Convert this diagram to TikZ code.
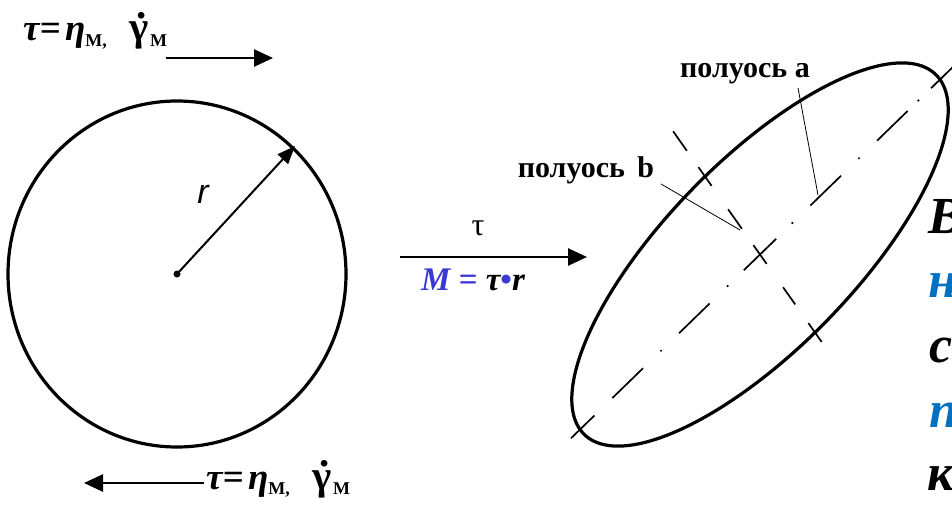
\documentclass[tikz,border=0pt]{standalone}
\usepackage{fontspec}
\setmainfont{Liberation Serif}
\newfontfamily\arialf{Liberation Sans}
\usetikzlibrary{arrows.meta,calc}
\definecolor{mblue}{RGB}{58,58,210}
\definecolor{tblue}{RGB}{0,112,192}
\newcommand{\mygdot}{{\upshape\fontsize{41}{41}\selectfont\makebox[0pt][l]{\hspace{0.17em}\raisebox{0.56em}{.}}γ}}
\newcommand{\mysubm}[1]{\raisebox{-0.35ex}{\upshape\fontsize{18}{18}\selectfont #1}}
\newcommand{\myformula}{\fontsize{37}{37}\selectfont\bfseries\itshape τ=\hspace{0.12em}η\mysubm{М,}\hspace{0.6em}\mygdot\hspace{0.05em}\mysubm{М}}
\begin{document}
\begin{tikzpicture}[x=1pt,y=-1pt,
  bigarrow/.style={line width=2.6pt,-{Triangle[length=19pt,width=17pt]}},
  thick3/.style={line width=3.2pt},
  axisline/.style={line width=1.7pt},
  leader/.style={line width=0.8pt},
  lbl/.style={font=\fontsize{30}{30}\selectfont\bfseries,inner sep=0pt,anchor=base},
  side/.style={font=\fontsize{52}{52}\selectfont\bfseries\itshape,inner sep=0pt,anchor=base west}]
\useasboundingbox (0,0) rectangle (952,516);
\clip (0,0) rectangle (952,516);

% circle
\coordinate (O) at (177,274);
\draw[thick3] (O) ellipse [x radius=169pt, y radius=173pt];
\fill (O) circle (3.5pt);
\coordinate (Rt) at (295,146);
\draw[line width=2pt,-{Triangle[length=18pt,width=14pt]}] (O) -- (Rt);
\node (r) [font=\arialf\itshape\fontsize{34}{34}\selectfont,inner sep=0pt] at (203,194) {r};

% top formula and arrow
\node (ftop) [inner sep=0pt,anchor=base west] at (23,41) {\myformula};
\coordinate (ta1) at (166,58);
\coordinate (ta2) at (273,58);
\draw[bigarrow] (ta1) -- (ta2);

% bottom formula and arrow
\node (fbot) [inner sep=0pt,anchor=base west] at (206,489) {\myformula};
\coordinate (ba1) at (204,483);
\coordinate (ba2) at (84,483);
\draw[bigarrow] (ba1) -- (ba2);

% middle arrow
\coordinate (ma1) at (400,257);
\coordinate (ma2) at (587,257);
\draw[bigarrow] (ma1) -- (ma2);
\node (tau) [font=\fontsize{32}{32}\selectfont,inner sep=0pt] at (478,228) {τ};
\node (mom) [font=\fontsize{33}{33}\selectfont\bfseries\itshape,inner sep=0pt] at (473,280)
  {\textcolor{mblue}{M =} τ\textcolor{mblue}{\upshape\textbullet}r};

% ellipse
\coordinate (C) at (760,254.5);
\coordinate (U) at (180,-175);
\coordinate (V) at (55,78);
\draw[thick3] plot[domain=0:360,samples=160,smooth cycle]
  ({760+180*cos(\x)+55*sin(\x)},{254.5-175*cos(\x)+78*sin(\x)});

% major axis
\foreach \a/\b in {-1.05/-0.92,-0.82/-0.65,-0.45/-0.28,-0.09/0.09,0.28/0.45,0.65/0.82,0.95/1.3}
  \draw[axisline] ($(C)+\a*(U)$) -- ($(C)+\b*(U)$);
\foreach \a in {-0.55,-0.18,0.18,0.55,0.88}
  \fill ($(C)+\a*(U)$) circle (1.2pt);
% minor axis
\foreach \a/\b in {-1.58/-1.33,-1.12/-0.88,-0.58/-0.33,-0.12/0.12,0.42/0.64,0.88/1.12}
  \draw[axisline] ($(C)+\a*(V)$) -- ($(C)+\b*(V)$);

% labels
\node (la) [lbl] at (745,78) {полуось a};
\node (lb) [lbl] at (586,177) {полуось\, b};
\coordinate (la1) at (798,88);
\coordinate (la2) at (818,195);
\draw[leader] (la1) -- (la2);
\coordinate (lb1) at (661,184);
\coordinate (lb2) at (740,230);
\draw[leader] (lb1) -- (lb2);

% side text (cut off at the right edge, as in the reference)
\node (s1) [side] at (928,233) {В};
\node (s2) [side,text=tblue] at (928,297) {н};
\node (s3) [side] at (929,362) {с};
\node (s4) [side,text=tblue] at (929,427) {п};
\node (s5) [side] at (927,490) {к};
\end{tikzpicture}
\end{document}
